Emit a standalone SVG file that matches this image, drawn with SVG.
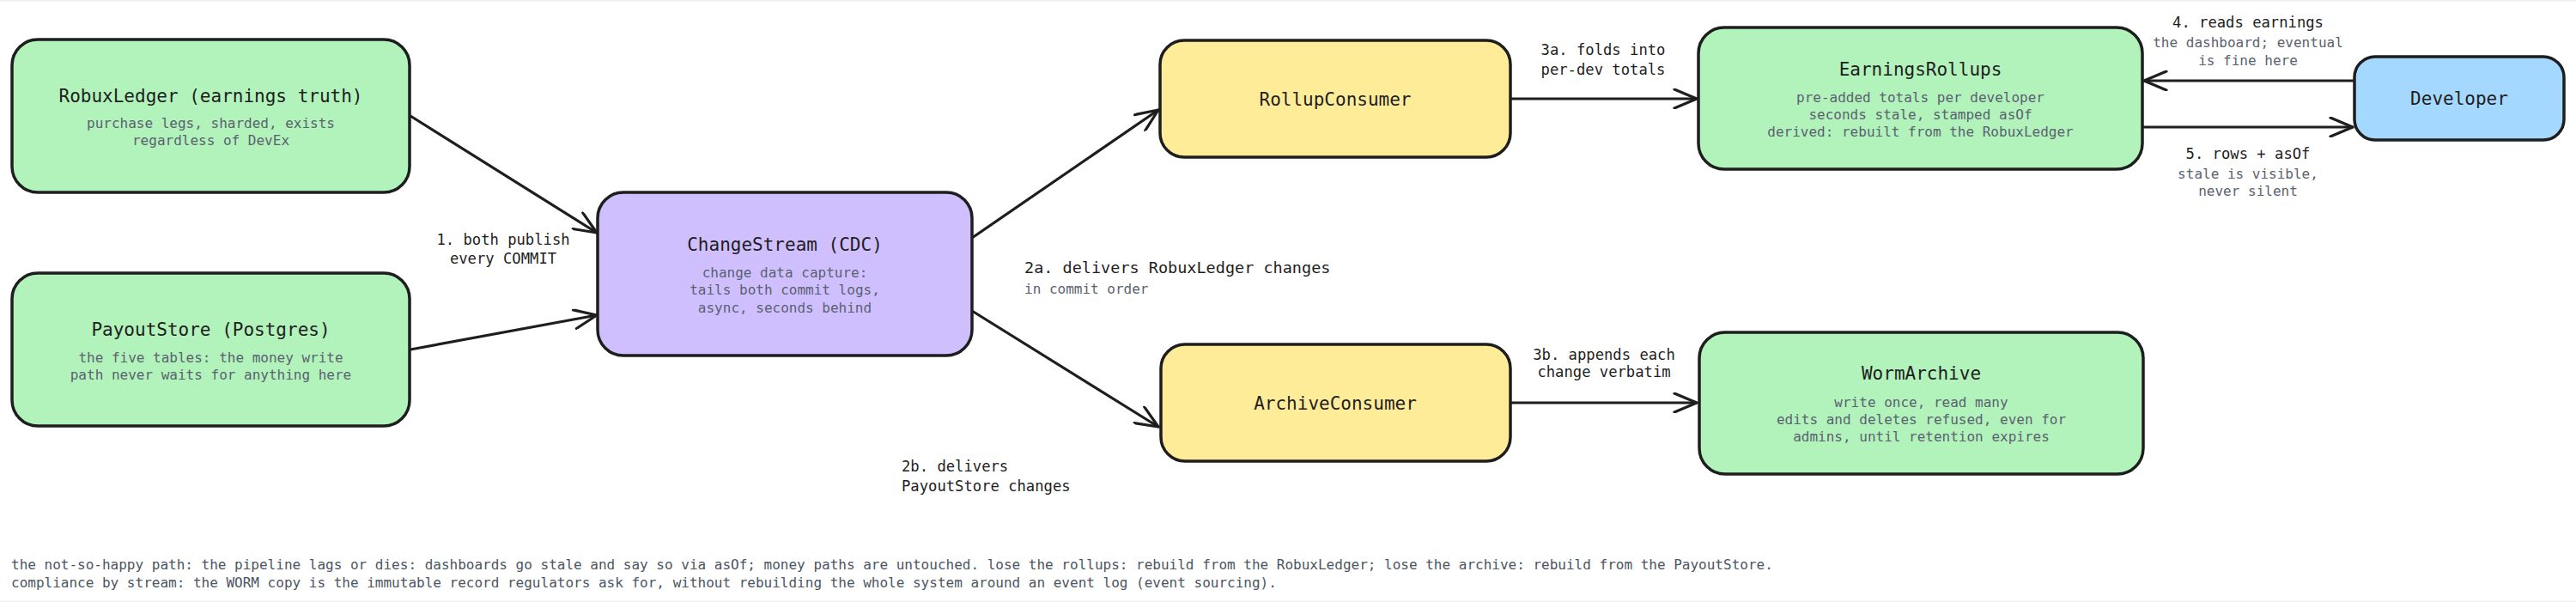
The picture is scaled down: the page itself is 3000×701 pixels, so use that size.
<svg xmlns="http://www.w3.org/2000/svg" width="3000" height="701" viewBox="0 0 3000 701">
<defs>
<style>
.box{stroke:#1e1e1e;stroke-width:3.5;stroke-linejoin:round}
.green{fill:#b2f2bb}.yellow{fill:#ffec99}.purple{fill:#d0bfff}.blue{fill:#a5d8ff}
.t{font-family:"DejaVu Sans Mono","Liberation Mono",monospace;font-size:21px;fill:#1e1e1e;text-anchor:middle;dominant-baseline:central}
.s{font-family:"DejaVu Sans Mono","Liberation Mono",monospace;font-size:16px;fill:#5a6270;text-anchor:middle;dominant-baseline:central}
.l{font-family:"DejaVu Sans Mono","Liberation Mono",monospace;font-size:17.2px;fill:#1e1e1e;text-anchor:middle;dominant-baseline:central}
.ls{font-family:"DejaVu Sans Mono","Liberation Mono",monospace;font-size:16px;fill:#5a6270;text-anchor:middle;dominant-baseline:central}
.start{text-anchor:start}
.f{font-family:"DejaVu Sans Mono","Liberation Mono",monospace;font-size:16px;fill:#4b5563;dominant-baseline:central}
.edge{stroke:#1e1e1e;stroke-width:3.2;fill:none;stroke-linecap:round;marker-end:url(#arr)}
</style>
<marker id="arr" viewBox="0 0 30 24" refX="28" refY="12" markerWidth="30" markerHeight="24" markerUnits="userSpaceOnUse" orient="auto">
<path d="M2,1 L28,12 L2,23" fill="none" stroke="#1e1e1e" stroke-width="3.2" stroke-linecap="round" stroke-linejoin="round"/>
</marker>
</defs>
<rect x="0" y="0" width="3000" height="701" fill="#ffffff"/>
<rect x="0" y="0" width="3000" height="1.5" fill="#eeeeee"/>
<rect x="0" y="699.5" width="3000" height="1.5" fill="#eeeeee"/>

<g id="connectors">
<path class="edge" d="M478,135 L695,271"/>
<path class="edge" d="M478,407 L695,367"/>
<path class="edge" d="M1132,277 L1349,128"/>
<path class="edge" d="M1132,362 L1349,497"/>
<path class="edge" d="M1759,115 L1976,115"/>
<path class="edge" d="M1759,469 L1976,469"/>
<path class="edge" d="M2742,94 L2497,94"/>
<path class="edge" d="M2495,148 L2740,148"/>
<g id="edge-labels">
<text class="l" x="586" y="279">1. both publish</text>
<text class="l" x="586" y="301">every COMMIT</text>
<text class="l start" x="1193" y="311" style="font-size:18.5px">2a. delivers RobuxLedger changes</text>
<text class="ls start" x="1193" y="336">in commit order</text>
<text class="l start" x="1050" y="543">2b. delivers</text>
<text class="l start" x="1050" y="566">PayoutStore changes</text>
<text class="l" x="1867" y="58">3a. folds into</text>
<text class="l" x="1867" y="81">per-dev totals</text>
<text class="l" x="1868" y="413">3b. appends each</text>
<text class="l" x="1868" y="433">change verbatim</text>
<text class="l" x="2618" y="26">4. reads earnings</text>
<text class="ls" x="2618" y="49">the dashboard; eventual</text>
<text class="ls" x="2618" y="70">is fine here</text>
<text class="l" x="2618" y="179">5. rows + asOf</text>
<text class="ls" x="2618" y="202">stale is visible,</text>
<text class="ls" x="2618" y="222">never silent</text>
</g>
</g>

<g id="RobuxLedger">
<rect class="box green" x="14" y="46" width="463" height="178" rx="30"/>
<text class="t" x="245.5" y="112">RobuxLedger (earnings truth)</text>
<text class="s" x="245.5" y="143">purchase legs, sharded, exists</text>
<text class="s" x="245.5" y="163">regardless of DevEx</text>
</g>
<g id="PayoutStore">
<rect class="box green" x="14" y="318" width="463" height="178" rx="30"/>
<text class="t" x="245.5" y="384">PayoutStore (Postgres)</text>
<text class="s" x="245.5" y="416">the five tables: the money write</text>
<text class="s" x="245.5" y="436">path never waits for anything here</text>
</g>
<g id="ChangeStream">
<rect class="box purple" x="696" y="224" width="436" height="190" rx="30"/>
<text class="t" x="914" y="285">ChangeStream (CDC)</text>
<text class="s" x="914" y="317">change data capture:</text>
<text class="s" x="914" y="337">tails both commit logs,</text>
<text class="s" x="914" y="358">async, seconds behind</text>
</g>
<g id="RollupConsumer">
<rect class="box yellow" x="1351" y="47" width="408" height="136" rx="28"/>
<text class="t" x="1555" y="116">RollupConsumer</text>
</g>
<g id="ArchiveConsumer">
<rect class="box yellow" x="1352" y="401" width="407" height="136" rx="28"/>
<text class="t" x="1555" y="470">ArchiveConsumer</text>
</g>
<g id="EarningsRollups">
<rect class="box green" x="1978" y="32" width="517" height="165" rx="30"/>
<text class="t" x="2236.5" y="81">EarningsRollups</text>
<text class="s" x="2236.5" y="113">pre-added totals per developer</text>
<text class="s" x="2236.5" y="133">seconds stale, stamped asOf</text>
<text class="s" x="2236.5" y="153">derived: rebuilt from the RobuxLedger</text>
</g>
<g id="WormArchive">
<rect class="box green" x="1979" y="387" width="517" height="165" rx="30"/>
<text class="t" x="2237.5" y="435">WormArchive</text>
<text class="s" x="2237.5" y="468">write once, read many</text>
<text class="s" x="2237.5" y="488">edits and deletes refused, even for</text>
<text class="s" x="2237.5" y="508">admins, until retention expires</text>
</g>
<g id="Developer">
<rect class="box blue" x="2742" y="66" width="244" height="97" rx="24"/>
<text class="t" x="2864" y="115">Developer</text>
</g>

<g id="footer">
<text class="f" x="13" y="657">the not-so-happy path: the pipeline lags or dies: dashboards go stale and say so via asOf; money paths are untouched. lose the rollups: rebuild from the RobuxLedger; lose the archive: rebuild from the PayoutStore.</text>
<text class="f" x="13" y="678">compliance by stream: the WORM copy is the immutable record regulators ask for, without rebuilding the whole system around an event log (event sourcing).</text>
</g>
</svg>
